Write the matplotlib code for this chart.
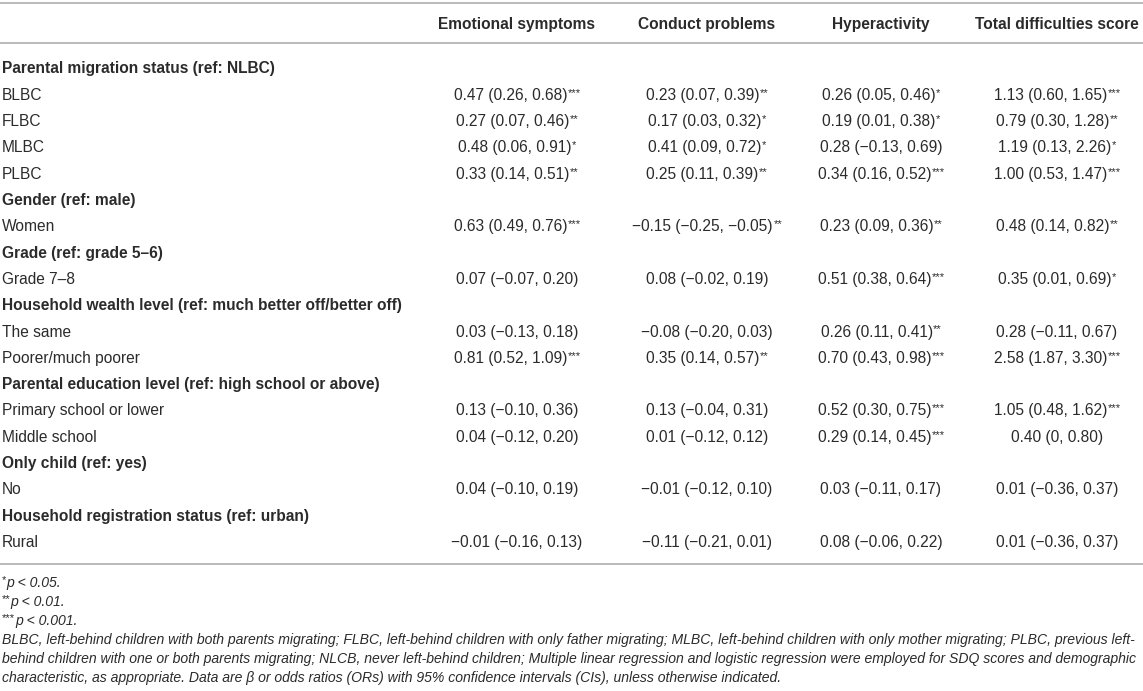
import matplotlib.pyplot as plt
from matplotlib.lines import Line2D

plt.rcParams['font.family'] = ['Liberation Sans', 'DejaVu Sans']

# table content
columns = ["Emotional symptoms", "Conduct problems", "Hyperactivity", "Total difficulties score"]

row_labels = ["Parental migration status (ref: NLBC)", "BLBC", "FLBC", "MLBC", "PLBC",
              "Gender (ref: male)", "Women",
              "Grade (ref: grade 5\u20136)", "Grade 7\u20138",
              "Household wealth level (ref: much better off/better off)", "The same", "Poorer/much poorer",
              "Parental education level (ref: high school or above)", "Primary school or lower", "Middle school",
              "Only child (ref: yes)", "No",
              "Household registration status (ref: urban)", "Rural"]
is_section = [1, 0, 0, 0, 0, 1, 0, 1, 0, 1, 0, 0, 1, 0, 0, 1, 0, 1, 0]

m = "\u2212"
emotional = [None, "0.47 (0.26, 0.68)", "0.27 (0.07, 0.46)", "0.48 (0.06, 0.91)", "0.33 (0.14, 0.51)",
             None, "0.63 (0.49, 0.76)", None, f"0.07 ({m}0.07, 0.20)",
             None, f"0.03 ({m}0.13, 0.18)", "0.81 (0.52, 1.09)",
             None, f"0.13 ({m}0.10, 0.36)", f"0.04 ({m}0.12, 0.20)",
             None, f"0.04 ({m}0.10, 0.19)", None, f"{m}0.01 ({m}0.16, 0.13)"]
emotional_sig = [0, 3, 2, 1, 2, 0, 3, 0, 0, 0, 0, 3, 0, 0, 0, 0, 0, 0, 0]

conduct = [None, "0.23 (0.07, 0.39)", "0.17 (0.03, 0.32)", "0.41 (0.09, 0.72)", "0.25 (0.11, 0.39)",
           None, f"{m}0.15 ({m}0.25, {m}0.05)", None, f"0.08 ({m}0.02, 0.19)",
           None, f"{m}0.08 ({m}0.20, 0.03)", "0.35 (0.14, 0.57)",
           None, f"0.13 ({m}0.04, 0.31)", f"0.01 ({m}0.12, 0.12)",
           None, f"{m}0.01 ({m}0.12, 0.10)", None, f"{m}0.11 ({m}0.21, 0.01)"]
conduct_sig = [0, 2, 1, 1, 2, 0, 2, 0, 0, 0, 0, 2, 0, 0, 0, 0, 0, 0, 0]

hyper = [None, "0.26 (0.05, 0.46)", "0.19 (0.01, 0.38)", f"0.28 ({m}0.13, 0.69)", "0.34 (0.16, 0.52)",
         None, "0.23 (0.09, 0.36)", None, "0.51 (0.38, 0.64)",
         None, "0.26 (0.11, 0.41)", "0.70 (0.43, 0.98)",
         None, "0.52 (0.30, 0.75)", "0.29 (0.14, 0.45)",
         None, f"0.03 ({m}0.11, 0.17)", None, f"0.08 ({m}0.06, 0.22)"]
hyper_sig = [0, 1, 1, 0, 3, 0, 2, 0, 3, 0, 2, 3, 0, 3, 3, 0, 0, 0, 0]

total = [None, "1.13 (0.60, 1.65)", "0.79 (0.30, 1.28)", "1.19 (0.13, 2.26)", "1.00 (0.53, 1.47)",
         None, "0.48 (0.14, 0.82)", None, "0.35 (0.01, 0.69)",
         None, f"0.28 ({m}0.11, 0.67)", "2.58 (1.87, 3.30)",
         None, "1.05 (0.48, 1.62)", "0.40 (0, 0.80)",
         None, f"0.01 ({m}0.36, 0.37)", None, f"0.01 ({m}0.36, 0.37)"]
total_sig = [0, 3, 2, 1, 3, 0, 2, 0, 1, 0, 0, 3, 0, 3, 0, 0, 0, 0, 0]

sig_notes = ["p < 0.05.", "p < 0.01.", "p < 0.001."]
footnotes = ["BLBC, left-behind children with both parents migrating; FLBC, left-behind children with only father migrating; MLBC, left-behind children with only mother migrating; PLBC, previous left-",
             "behind children with one or both parents migrating; NLCB, never left-behind children; Multiple linear regression and logistic regression were employed for SDQ scores and demographic",
             "characteristic, as appropriate. Data are \u03b2 or odds ratios (ORs) with 95% confidence intervals (CIs), unless otherwise indicated."]

W, H = 1143, 691
fig = plt.figure(figsize=(W / 100, H / 100), dpi=100)
renderer = fig.canvas.get_renderer()
tc = '#2b2b2b'
fs = 11.2
fs_note = 10.1
fs_star = 8.0

def fy(py):
    return 1 - py / H

def hline(py):
    fig.add_artist(Line2D([0, 1], [fy(py), fy(py)], color='#b4b4b4', lw=1.3, transform=fig.transFigure))

def starred(x, base, s, n, size, **kw):
    # main text followed by small raised asterisks; the pair is centred as one
    t = fig.text(0, fy(base), s, ha='left', va='baseline', fontsize=size, color=tc, **kw)
    w1 = t.get_window_extent(renderer).width
    w2 = 0
    st = None
    if n:
        st = fig.text(0, fy(base - 4), "*" * n, ha='left', va='baseline', fontsize=fs_star, color=tc)
        w2 = st.get_window_extent(renderer).width
    x0 = x - (w1 + w2) / 2
    t.set_x(x0 / W)
    if st is not None:
        st.set_x((x0 + w1 + 0.5) / W)

def star_first(x, base, n, s, size, **kw):
    st = fig.text(x / W, fy(base - 4), "*" * n, ha='left', va='baseline', fontsize=fs_star, color=tc)
    w = st.get_window_extent(renderer).width
    fig.text((x + w) / W, fy(base), s, ha='left', va='baseline', fontsize=size, color=tc, **kw)

hline(3)
hline(43)
hline(564)

col_x = [517, 707, 881, 1057]
for cx, name in zip(col_x, columns):
    fig.text(cx / W, fy(29), name, ha='center', va='baseline', fontsize=fs, fontweight='bold', color=tc)

all_vals = [emotional, conduct, hyper, total]
all_sig = [emotional_sig, conduct_sig, hyper_sig, total_sig]
for i, lab in enumerate(row_labels):
    base = 68 + i * 26.3 + 5.5
    fig.text(2 / W, fy(base), lab, ha='left', va='baseline', fontsize=fs,
             fontweight='bold' if is_section[i] else 'normal', color=tc)
    for cx, vals, sigs in zip(col_x, all_vals, all_sig):
        if vals[i] is None:
            continue
        starred(cx, base, vals[i], sigs[i], fs)

for j, note in enumerate(sig_notes):
    star_first(2, 582 + j * 19 + 5, j + 1, note, fs_note, style='italic')

for j, note in enumerate(footnotes):
    fig.text(2 / W, fy(639 + j * 19 + 5), note, ha='left', va='baseline', fontsize=fs_note,
             style='italic', color=tc)

fig.savefig("out.png", dpi=100)
